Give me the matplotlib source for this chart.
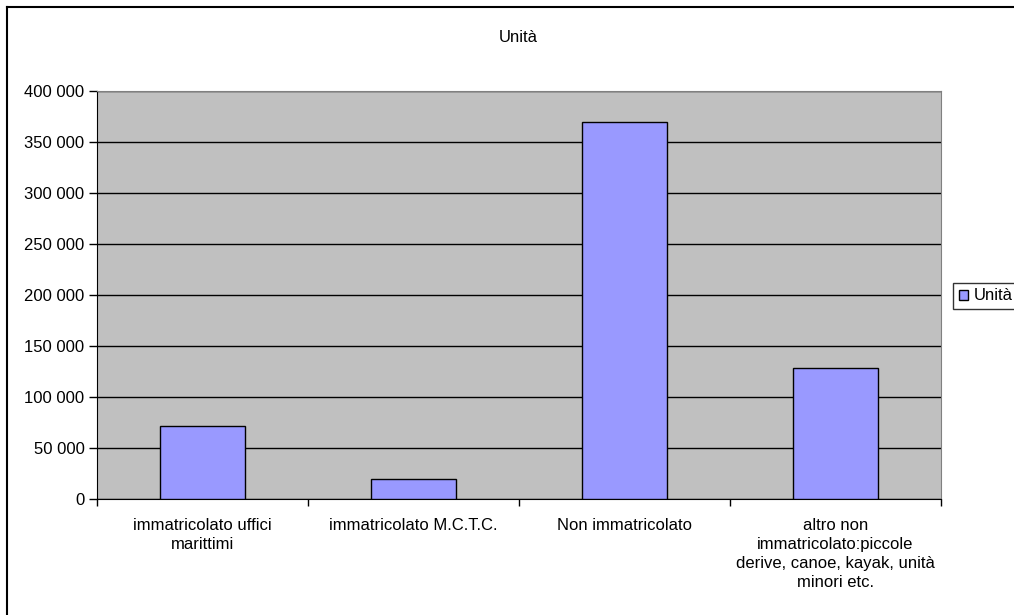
import matplotlib.pyplot as plt
from matplotlib.lines import Line2D
from matplotlib.patches import Patch
from matplotlib.ticker import FuncFormatter, MultipleLocator

plt.rcParams['font.family'] = ['Liberation Sans', 'DejaVu Sans']

categories = [
    "immatricolato uffici\nmarittimi",
    "immatricolato M.C.T.C.",
    "Non immatricolato",
    "altro non\nimmatricolato:piccole\nderive, canoe, kayak, unità\nminori etc.",
]
values = [72000, 20000, 370000, 128000]
series_name = "Unità"

fs = 12

fig = plt.figure(figsize=(10.14, 6.15), dpi=100)
ax = fig.add_axes([97 / 1014, 1 - 499 / 615, (941 - 97) / 1014, (499 - 91) / 615])
ax.set_facecolor("#C0C0C0")

x = list(range(len(categories)))
ax.bar(x, values, width=0.4, color="#9999FF", edgecolor="black", linewidth=1, zorder=3)

ax.set_xlim(-0.5, len(categories) - 0.5)
ax.set_ylim(0, 400000)
ax.yaxis.set_major_locator(MultipleLocator(50000))
ax.yaxis.set_major_formatter(FuncFormatter(lambda v, p: f"{int(v):,}".replace(",", " ")))
ax.grid(axis="y", color="black", linewidth=1, zorder=1)

ax.set_xticks(x)
ax.set_xticklabels(categories, fontsize=fs, linespacing=1.32)
ax.set_xticks([i - 0.5 for i in range(len(categories) + 1)], minor=True)
ax.tick_params(axis="x", which="major", length=0, pad=14)
ax.tick_params(axis="x", which="minor", length=5, width=1, direction="out")
ax.tick_params(axis="y", length=6, width=1, labelsize=fs, pad=3)

for side in ["top", "right"]:
    ax.spines[side].set_color("#808080")
for side in ["left", "bottom"]:
    ax.spines[side].set_color("black")

fig.text(518 / 1014, 1 - 38 / 615, series_name, ha="center", va="center", fontsize=fs)

# legend pushed against the right edge, as in the reference
handle = Patch(facecolor="#9999FF", edgecolor="black", linewidth=1)
fig.legend([handle], [series_name], loc="center left",
           bbox_to_anchor=(945 / 1014, 1 - 296 / 615), fontsize=fs,
           frameon=True, fancybox=False, edgecolor="black", borderpad=0.35,
           handlelength=0.55, handleheight=0.55, handletextpad=0.3)

# outer chart border (left and top edges visible)
fig.add_artist(Line2D([7 / 1014, 7 / 1014], [0, 1 - 7 / 615], color="black", linewidth=1.5))
fig.add_artist(Line2D([7 / 1014, 1], [1 - 7 / 615, 1 - 7 / 615], color="black", linewidth=1.5))

fig.savefig("out.png", dpi=100)
